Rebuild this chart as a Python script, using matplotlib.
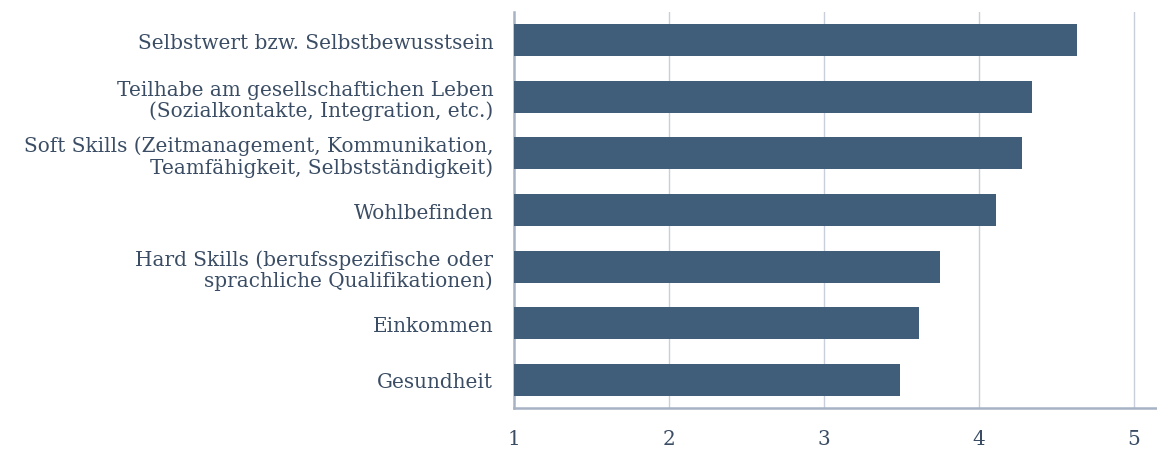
import matplotlib
matplotlib.use("Agg")
import matplotlib.pyplot as plt

categories = [
    "Selbstwert bzw. Selbstbewusstsein",
    "Teilhabe am gesellschaftichen Leben\n(Sozialkontakte, Integration, etc.)",
    "Soft Skills (Zeitmanagement, Kommunikation,\nTeamfähigkeit, Selbstständigkeit)",
    "Wohlbefinden",
    "Hard Skills (berufsspezifische oder\nsprachliche Qualifikationen)",
    "Einkommen",
    "Gesundheit",
]
values = [4.63, 4.34, 4.28, 4.11, 3.75, 3.61, 3.49]
xticks = [1, 2, 3, 4, 5]

text_color = "#3a4d64"
bar_color = "#405e7a"
grid_color = "#c8cfdb"
axis_color = "#a7b2c5"

plt.rcParams['font.family'] = ['DejaVu Serif']

fig = plt.figure(figsize=(11.57, 4.52), dpi=100)
ax = fig.add_axes([514/1157, 1 - 409/452, (1157 - 514)/1157, (409 - 13)/452])

ypos = list(range(len(categories)))
ax.barh(ypos, [v - 1 for v in values], left=1, height=0.565, color=bar_color, zorder=3)

ax.set_xlim(1, 1 + (1157 - 514) / 155)
ax.set_ylim(len(categories) - 0.5, -0.5)
ax.set_xticks(xticks)
ax.set_xticklabels([str(t) for t in xticks])
ax.set_yticks(ypos)
ax.set_yticklabels(categories, linespacing=1.1)

for t in xticks[1:]:
    ax.axvline(t, color=grid_color, lw=1.0, zorder=1)

for s in ["top", "right"]:
    ax.spines[s].set_visible(False)
ax.spines["left"].set_color(axis_color)
ax.spines["left"].set_linewidth(1.8)
ax.spines["bottom"].set_color(axis_color)
ax.spines["bottom"].set_linewidth(1.8)

ax.tick_params(axis="both", length=0, colors=text_color, labelsize=14.4)
ax.tick_params(axis="x", pad=15)
ax.tick_params(axis="y", pad=15)
for lab in ax.get_yticklabels():
    lab.set_color(text_color)

fig.savefig("out.png", dpi=100)
